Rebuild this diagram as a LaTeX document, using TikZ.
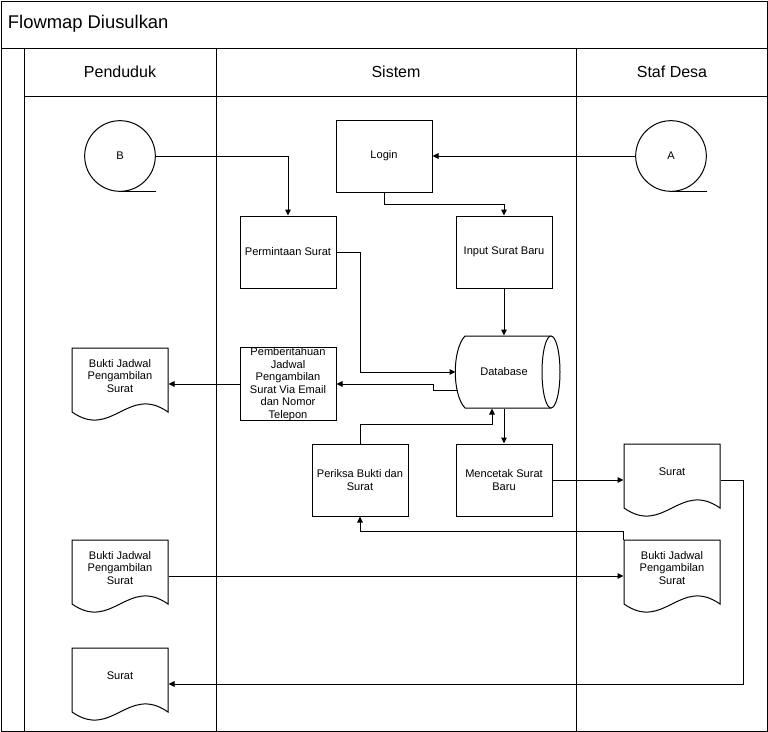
\documentclass[tikz,border=0pt]{standalone}
\usepackage{fontspec}
\setmainfont{Liberation Sans}
\usetikzlibrary{arrows.meta,calc}

% outline of a document symbol round a node
\newcommand{\docshape}[1]{%
  \draw[shift={(#1.center)}] (-48,-28) -- (48,-28) -- (48,36) .. controls (8,8) and (-8,64) .. (-48,36) -- cycle;}
% outline of the database
\newcommand{\dbshape}[1]{%
  \draw[shift={(#1.center)}] (47,-36) -- (-39,-36) .. controls (-52,-22) and (-52,22) .. (-39,36) -- (47,36);
  \draw[shift={(#1.center)}] (47,0) ellipse [x radius=9, y radius=36];}

\begin{document}
\begin{tikzpicture}[x=0.75pt, y=-0.75pt, line width=0.75pt,
    proc/.style={draw, minimum width=72pt, minimum height=54pt, inner sep=0pt, align=center, font=\fontsize{8.3}{9.4}\selectfont},
    docu/.style={minimum width=72pt, minimum height=42pt, inner sep=0pt, align=center, font=\fontsize{8.3}{9.5}\selectfont},
    konektor/.style={draw, circle, minimum size=53pt, inner sep=0pt, font=\fontsize{8.3}{9.5}\selectfont},
    lane/.style={font=\fontsize{12}{14}\selectfont},
    panah/.style={-{Triangle[length=4.5pt,width=4.2pt]}},
  ]

\useasboundingbox (0,0) rectangle (768,732);

% frame and swimlanes
\draw (1,1) rectangle (767,731);
\draw (1,48) -- (767,48);
\draw (24,96) -- (767,96);
\foreach \x in {24,216,576}
    \draw (\x,48) -- (\x,731);

\node[anchor=west, font=\fontsize{13.8}{16}\selectfont] (judul) at (3,24) {Flowmap Diusulkan};
\node[lane] (penduduk) at (120,72) {Penduduk};
\node[lane] (sistem) at (396,72) {Sistem};
\node[lane] (staf) at (672,72) {Staf Desa};

% off-page connectors
\node[konektor] (b) at (120,156) {B};
\node[konektor] (a) at (671,156) {A};
\draw (b.south) -- (b.south -| b.east);
\draw (a.south) -- (a.south -| a.east);

% processes
\node[proc] (login) at (384,156) {Login};
\node[proc] (minta) at (288,252) {Permintaan Surat};
\node[proc] (input) at (504,252) {Input Surat Baru};
\node[proc] (info) at (288,384) {Pemberitahuan\\Jadwal\\Pengambilan\\Surat Via Email\\dan Nomor\\Telepon};
\node[proc] (periksa) at (360,480) {Periksa Bukti dan\\Surat};
\node[proc] (cetak) at (504,480) {Mencetak Surat\\Baru};

\node[minimum width=72pt, minimum height=54pt, inner sep=0pt, font=\fontsize{8.3}{9.5}\selectfont] (db) at (504,372) {Database};
\dbshape{db}

% documents
\node[docu] (bukti1) at (120,376) {Bukti Jadwal\\Pengambilan\\Surat};
\node[docu] (bukti2) at (120,568) {Bukti Jadwal\\Pengambilan\\Surat};
\node[docu] (surat2) at (120,676) {Surat};
\node[docu] (surat1) at (672,472) {Surat};
\node[docu] (bukti3) at (672,568) {Bukti Jadwal\\Pengambilan\\Surat};
\foreach \d in {bukti1,bukti2,surat2,surat1,bukti3}
    {\docshape{\d}}

% flow
\draw[panah] (a.west) -- (a.west -| login.east);
\draw[panah] (b.east) -| (minta.north);
\draw[panah] (login.south) -- ++(0,12) -| (input.north);
\draw[panah] (input.south) -- (db.north);
\draw[panah] (minta.east) -- ++(24,0) |- (db.west);
\draw[panah] ($(db.west)+(2,18)$) -- ++(-24,0) |- (info.east);
\draw[panah] (info.west) -- (info.west -| bukti1.east);
\draw[panah] (periksa.north) -- ++(0,-19) -| ($(db.south)+(-12,0)$);
\draw[panah] (db.south) -- (cetak.north);
\draw[panah] (cetak.east) -- (cetak.east -| surat1.west);
\coordinate (balik) at (743,684);
\draw[panah] (cetak.east -| surat1.east) -| (balik) -- (balik -| surat2.east);
\draw[panah] ($(bukti2.east)+(0,8)$) -- ($(bukti2.east -| bukti3.west)+(0,8)$);
\draw[panah] (bukti3.north west) -- ++(0,-8) -| (periksa.south);
\end{tikzpicture}
\end{document}
